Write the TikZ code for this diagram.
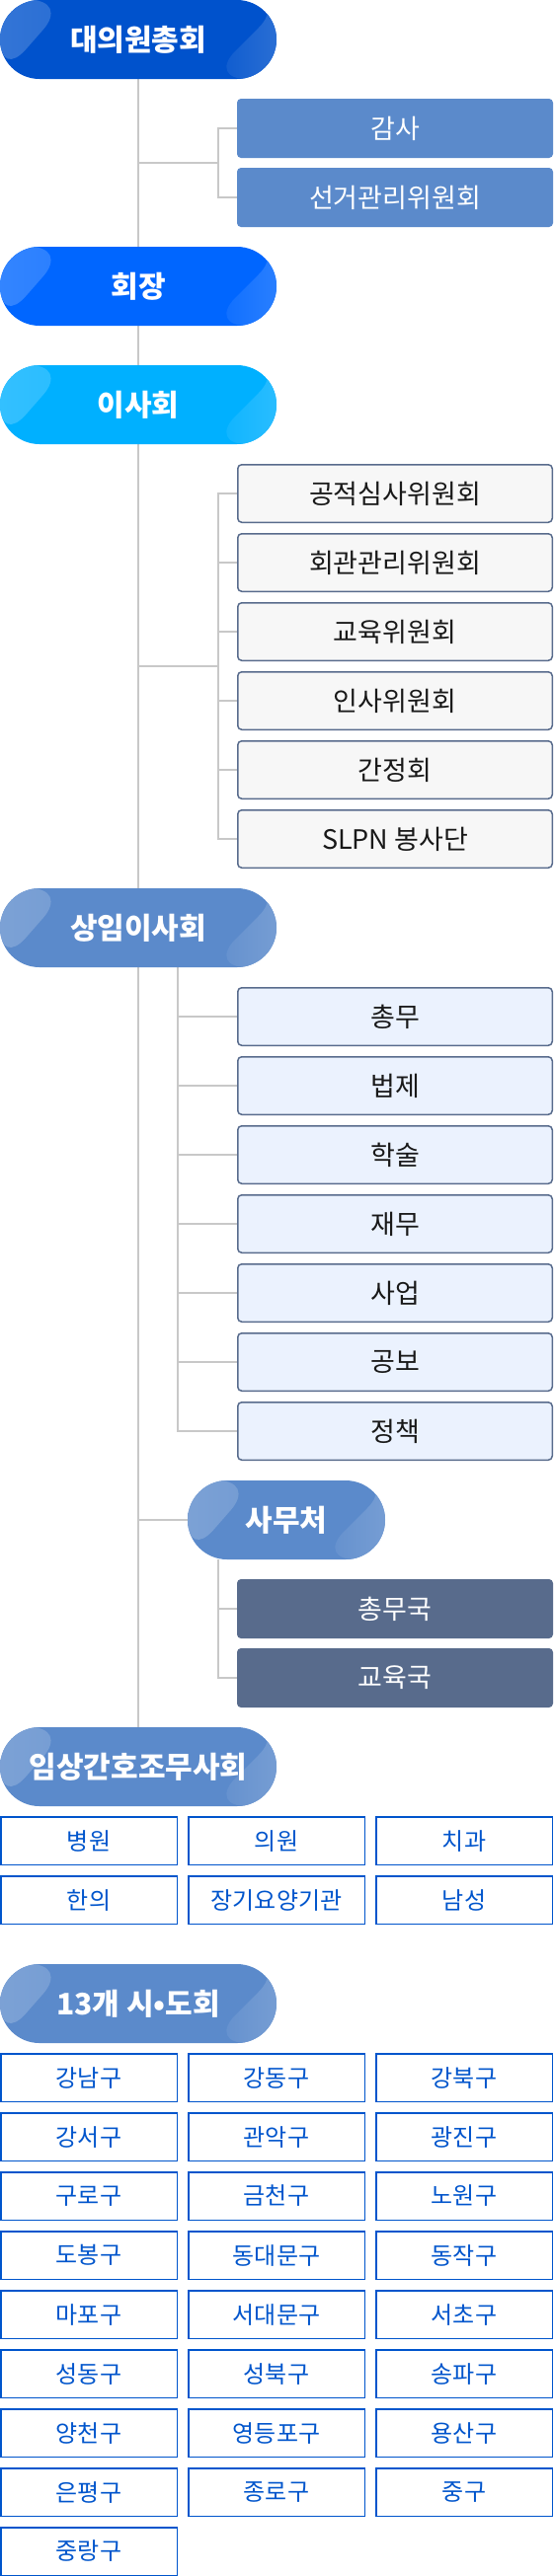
\documentclass[tikz,border=0pt]{standalone}
\usepackage{fontspec}
\setmainfont{Noto Sans CJK KR}
\usetikzlibrary{backgrounds}

\definecolor{navy}{HTML}{0052CC}
\definecolor{royal}{HTML}{0066FF}
\definecolor{sky}{HTML}{00B0FF}
\definecolor{steel}{HTML}{5B8ACB}
\definecolor{slate}{HTML}{586B8C}
\definecolor{paper}{HTML}{F7F7F7}
\definecolor{ice}{HTML}{EBF2FE}
\definecolor{ink}{HTML}{0055CC}
\definecolor{wire}{HTML}{C8C8C8}

\newcommand{\bx}{\fontsize{27}{32}\selectfont}
\newcommand{\gx}{\fontsize{24}{28}\selectfont}

\tikzset{
  pill/.style={fill=#1, rounded corners=40pt, minimum width=280pt, minimum height=80pt,
    inner sep=0pt, text=white, font=\bfseries\fontsize{30}{34}\selectfont,
    path picture={
      \shade[left color=white!20!#1, right color=white!4!#1]
        (path picture bounding box.north west) -- ++(70pt,0pt) -- ++(-70pt,-80pt) -- cycle;
      \shade[left color=white!3!#1, right color=white!18!#1]
        (path picture bounding box.north east) -- ++(10pt,0pt) -- ++(-80pt,-80pt) -- ++(80pt,0pt) -- cycle;
    }},
  solid box/.style={fill=#1, rounded corners=4pt, minimum width=320pt, minimum height=60pt,
    inner sep=0pt, text=white, font=\bx},
  line box/.style={fill=#1, draw=slate, line width=1.5pt, rounded corners=4pt,
    minimum width=318.5pt, minimum height=58.5pt, inner sep=0pt, text=black!90, font=\bx},
  cell/.style={fill=white, draw=ink, line width=1.5pt, minimum width=178.5pt,
    minimum height=48.5pt, inner sep=0pt, text=ink, font=\gx},
  link/.style={draw=wire, line width=2pt}
}

\begin{document}
\begin{tikzpicture}[x=1pt,y=-1pt]
  \useasboundingbox (0,0) rectangle (560,2610);

  % top of the tree
  \node[pill=navy] (daeui) at (140,40) {대의원총회};
  \node[solid box=steel] (gamsa) at (400,130) {감사};
  \node[solid box=steel] (seongeo) at (400,200) {선거관리위원회};
  \node[pill=royal] (hoejang) at (140,290) {회장};

  % board
  \node[pill=sky] (isa) at (140,410) {이사회};
  \node[line box=paper] (gongjeok) at (400,500) {공적심사위원회};
  \node[line box=paper] (hoegwan) at (400,570) {회관관리위원회};
  \node[line box=paper] (gyoyukwi) at (400,640) {교육위원회};
  \node[line box=paper] (insa) at (400,710) {인사위원회};
  \node[line box=paper] (ganjeong) at (400,780) {간정회};
  \node[line box=paper] (slpn) at (400,850) {SLPN 봉사단};

  % standing board
  \node[pill=steel] (sangim) at (140,940) {상임이사회};
  \node[line box=ice] (chongmu) at (400,1030) {총무};
  \node[line box=ice] (beopje) at (400,1100) {법제};
  \node[line box=ice] (haksul) at (400,1170) {학술};
  \node[line box=ice] (jaemu) at (400,1240) {재무};
  \node[line box=ice] (saeop) at (400,1310) {사업};
  \node[line box=ice] (gongbo) at (400,1380) {공보};
  \node[line box=ice] (jeongchaek) at (400,1450) {정책};

  % secretariat
  \node[pill=steel, minimum width=200pt] (samu) at (290,1540) {사무처};
  \node[solid box=slate] (chongmuguk) at (400,1630) {총무국};
  \node[solid box=slate] (gyoyukguk) at (400,1700) {교육국};

  % clinical nurses
  \node[pill=steel] (imsang) at (140,1790) {임상간호조무사회};
  \node[cell] (byeongwon) at (90,1865) {병원};
  \node[cell] (uiwon) at (280,1865) {의원};
  \node[cell] (chigwa) at (470,1865) {치과};
  \node[cell] (hanui) at (90,1925) {한의};
  \node[cell] (janggi) at (280,1925) {장기요양기관};
  \node[cell] (namseong) at (470,1925) {남성};

  % districts
  \node[pill=steel] (sido) at (140,2030) {13개 시•도회};
  \node[cell] (d1) at (90,2105) {강남구};
  \node[cell] (d2) at (280,2105) {강동구};
  \node[cell] (d3) at (470,2105) {강북구};
  \node[cell] (d4) at (90,2165) {강서구};
  \node[cell] (d5) at (280,2165) {관악구};
  \node[cell] (d6) at (470,2165) {광진구};
  \node[cell] (d7) at (90,2225) {구로구};
  \node[cell] (d8) at (280,2225) {금천구};
  \node[cell] (d9) at (470,2225) {노원구};
  \node[cell] (d10) at (90,2285) {도봉구};
  \node[cell] (d11) at (280,2285) {동대문구};
  \node[cell] (d12) at (470,2285) {동작구};
  \node[cell] (d13) at (90,2345) {마포구};
  \node[cell] (d14) at (280,2345) {서대문구};
  \node[cell] (d15) at (470,2345) {서초구};
  \node[cell] (d16) at (90,2405) {성동구};
  \node[cell] (d17) at (280,2405) {성북구};
  \node[cell] (d18) at (470,2405) {송파구};
  \node[cell] (d19) at (90,2465) {양천구};
  \node[cell] (d20) at (280,2465) {영등포구};
  \node[cell] (d21) at (470,2465) {용산구};
  \node[cell] (d22) at (90,2525) {은평구};
  \node[cell] (d23) at (280,2525) {종로구};
  \node[cell] (d24) at (470,2525) {중구};
  \node[cell] (d25) at (90,2585) {중랑구};

  \coordinate (b1) at (221,165);
  \coordinate (b2) at (221,675);

  \begin{pgfonlayer}{background}
    \draw[link] (daeui.south) -- (imsang.north);
    \draw[link] (daeui.south |- b1) -- (b1);
    \draw[link] (b1) |- (gamsa.west);
    \draw[link] (b1) |- (seongeo.west);
    \draw[link] (daeui.south |- b2) -- (b2);
    \draw[link] (b2) |- (gongjeok.west);
    \draw[link] (b2) |- (hoegwan.west);
    \draw[link] (b2) |- (gyoyukwi.west);
    \draw[link] (b2) |- (insa.west);
    \draw[link] (b2) |- (ganjeong.west);
    \draw[link] (b2) |- (slpn.west);
    \draw[link] ([xshift=40pt]sangim.south) |- (chongmu.west);
    \draw[link] ([xshift=40pt]sangim.south) |- (beopje.west);
    \draw[link] ([xshift=40pt]sangim.south) |- (haksul.west);
    \draw[link] ([xshift=40pt]sangim.south) |- (jaemu.west);
    \draw[link] ([xshift=40pt]sangim.south) |- (saeop.west);
    \draw[link] ([xshift=40pt]sangim.south) |- (gongbo.west);
    \draw[link] ([xshift=40pt]sangim.south) |- (jeongchaek.west);
    \draw[link] (daeui.south |- samu.west) -- (samu.west);
    \draw[link] (b2 |- samu.south) |- (chongmuguk.west);
    \draw[link] (b2 |- samu.south) |- (gyoyukguk.west);
  \end{pgfonlayer}
\end{tikzpicture}
\end{document}
